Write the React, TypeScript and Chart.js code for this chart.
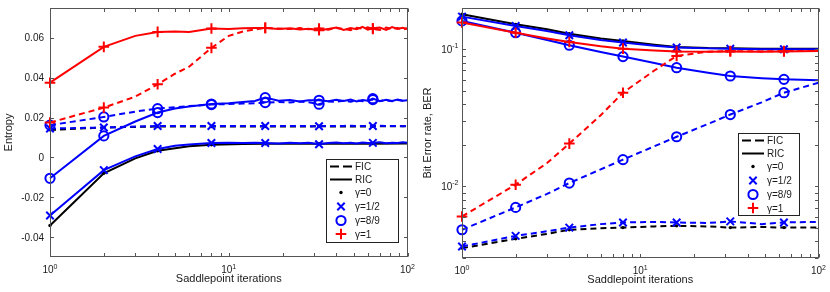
import { useEffect, useRef } from "react";
import { Chart, registerables } from "chart.js";
Chart.register(...registerables);

const FONT = '"Liberation Sans", Arial, Helvetica, sans-serif';
const TEXT = "#1a1a1a";
const AXIS = "#555555";
const RED = "#ff0000";
const BLUE = "#0000ff";
const BLACK = "#000000";

// iterations at which markers are drawn
const markerIters = [1, 2, 4, 8, 16, 32, 64];

// ---------- Left panel: Entropy ----------
const entIters = [1, 2, 3, 4, 5, 6, 8, 10, 12, 14, 16, 19, 22, 25, 28, 32, 36, 40, 44, 48, 52, 56, 60, 64, 70, 76, 82, 88, 94, 100];
const entItersSparse = [1, 2, 3, 4, 6, 8, 12, 16, 24, 32, 48, 64, 100];

const entRicG1 = [0.0375, 0.0555, 0.061, 0.063, 0.0632, 0.063, 0.0647, 0.0645, 0.0648, 0.065, 0.065, 0.0645, 0.0648, 0.0642, 0.0646, 0.0638, 0.0645, 0.0652, 0.064, 0.065, 0.0643, 0.0655, 0.0641, 0.0648, 0.0652, 0.064, 0.0654, 0.0645, 0.0651, 0.0645];
const entFicG1 = [0.0175, 0.025, 0.0305, 0.0367, 0.042, 0.0455, 0.055, 0.061, 0.0632, 0.0642, 0.065, 0.0647, 0.0644, 0.0649, 0.0643, 0.0647, 0.0641, 0.065, 0.0645, 0.0639, 0.0651, 0.0646, 0.0653, 0.0645, 0.064, 0.0652, 0.0644, 0.065, 0.0642, 0.0648];
const entRicG89 = [-0.0105, 0.0108, 0.018, 0.0225, 0.0245, 0.0255, 0.0268, 0.0272, 0.0278, 0.0283, 0.03, 0.0284, 0.0288, 0.0281, 0.0287, 0.0287, 0.0282, 0.0289, 0.0283, 0.029, 0.0281, 0.0288, 0.0284, 0.0295, 0.0282, 0.0289, 0.0283, 0.029, 0.0284, 0.0287];
const entFicG89 = [0.0162, 0.0203, 0.023, 0.0245, 0.0252, 0.0258, 0.0265, 0.0268, 0.027, 0.0272, 0.0275, 0.0278, 0.0276, 0.028, 0.0277, 0.0267, 0.0281, 0.0279, 0.0284, 0.028, 0.0286, 0.0282, 0.0285, 0.029, 0.0283, 0.0287, 0.0282, 0.0288, 0.0284, 0.0286];
const entFicG12 = [0.0145, 0.015, 0.0155, 0.0158, 0.0158, 0.0158, 0.0158, 0.0157, 0.0158, 0.0158, 0.0158, 0.0157, 0.0158, 0.0158, 0.0157, 0.0156, 0.0158, 0.0157, 0.0158, 0.0159, 0.0157, 0.0158, 0.0157, 0.0158, 0.0159, 0.0157, 0.0158, 0.0158, 0.0157, 0.0158];
const entRicG12 = [-0.0292, -0.0064, 0.0005, 0.0042, 0.0058, 0.0065, 0.0072, 0.0073, 0.0072, 0.0073, 0.0072, 0.007, 0.0074, 0.0071, 0.0073, 0.0066, 0.0072, 0.0075, 0.0071, 0.0074, 0.007, 0.0075, 0.0072, 0.0073, 0.0076, 0.0071, 0.0074, 0.0072, 0.0076, 0.0073];
const entFicG0 = [0.0138, 0.015, 0.0153, 0.0155, 0.0155, 0.0155, 0.0155, 0.0155, 0.0155, 0.0156, 0.0155, 0.0156, 0.0156];
const entRicG0 = [-0.0342, -0.008, -0.0005, 0.0033, 0.0056, 0.0063, 0.0067, 0.0068, 0.0068, 0.0069, 0.0069, 0.0069, 0.007];

const entYTicks = [-0.04, -0.02, 0, 0.02, 0.04, 0.06];
const entYTickLabels = ["-0.04", "-0.02", "0", "0.02", "0.04", "0.06"];

// ---------- Right panel: BER ----------
const berIters = [1, 2, 3, 4, 6, 8, 12, 16, 24, 32, 48, 64, 100];
const berFicG0 = [0.00354, 0.00414, 0.0045, 0.00482, 0.00495, 0.005, 0.0051, 0.00515, 0.0051, 0.005, 0.00505, 0.005, 0.005];
const berRicG0 = [0.18, 0.152, 0.14, 0.13, 0.12, 0.115, 0.108, 0.104, 0.102, 0.1016, 0.101, 0.101, 0.101];
const berFicG12 = [0.00364, 0.00435, 0.0047, 0.005, 0.0053, 0.00545, 0.0055, 0.00545, 0.0054, 0.00555, 0.0053, 0.00545, 0.0055];
const berRicG12 = [0.173, 0.148, 0.136, 0.1265, 0.117, 0.112, 0.106, 0.103, 0.1015, 0.101, 0.1, 0.1, 0.1];
const berFicG89 = [0.00482, 0.00702, 0.0088, 0.01057, 0.0133, 0.01566, 0.0196, 0.023, 0.0285, 0.0334, 0.041, 0.0482, 0.057];
const berRicG89 = [0.161, 0.132, 0.117, 0.107, 0.0955, 0.0884, 0.0795, 0.0734, 0.0675, 0.0638, 0.0615, 0.0603, 0.0593];
const berFicG1 = [0.00603, 0.01028, 0.0148, 0.0205, 0.033, 0.0482, 0.07, 0.0894, 0.096, 0.097, 0.0965, 0.097, 0.097];
const berRicG1 = [0.157, 0.132, 0.12, 0.113, 0.105, 0.101, 0.098, 0.0962, 0.096, 0.0962, 0.0958, 0.0962, 0.097];

const berYMajor = [0.01, 0.1];
const berYMinor = [0.003, 0.004, 0.005, 0.006, 0.007, 0.008, 0.009, 0.02, 0.03, 0.04, 0.05, 0.06, 0.07, 0.08, 0.09];
const berYTickExp = ["-2", "-1"];

const xMajor = [1, 10, 100];
const xMinor = [2, 3, 4, 5, 6, 7, 8, 9, 20, 30, 40, 50, 60, 70, 80, 90];
const xTickExp = ["0", "1", "2"];

const legendLabels = ["FIC", "RIC", "\u03b3=0", "\u03b3=1/2", "\u03b3=8/9", "\u03b3=1"];

type Marker = "dot" | "x" | "o" | "plus";
interface Series { xs: number[]; ys: number[]; color: string; dashed: boolean; marker: Marker; }

function makeDataset(s: Series) {
  const style = { dot: "circle", x: "crossRot", o: "circle", plus: "cross" }[s.marker];
  const r = { dot: 1.7, x: 5.3, o: 4.6, plus: 5.3 }[s.marker];
  return {
    data: s.xs.map((x, i) => ({ x, y: s.ys[i] })),
    borderColor: s.color,
    borderWidth: 2,
    borderDash: s.dashed ? [6, 4] : [],
    pointStyle: style,
    pointRadius: (ctx: any) => (ctx.raw && markerIters.includes(ctx.raw.x) ? r : 0),
    pointHoverRadius: 0,
    pointBorderColor: s.color,
    pointBackgroundColor: s.marker === "dot" ? s.color : "rgba(0,0,0,0)",
    pointBorderWidth: s.marker === "dot" ? 0 : 2,
    tension: 0,
    fill: false,
    clip: false as any,
  };
}

function drawSup(ctx: CanvasRenderingContext2D, base: string, exp: string, x: number, y: number, align: "center" | "right") {
  ctx.font = `10px ${FONT}`;
  const bw = ctx.measureText(base).width;
  ctx.font = `7px ${FONT}`;
  const ew = ctx.measureText(exp).width;
  const total = bw + ew;
  const start = align === "center" ? x - total / 2 : x - total;
  ctx.textAlign = "left";
  ctx.textBaseline = "alphabetic";
  ctx.font = `10px ${FONT}`;
  ctx.fillText(base, start, y);
  ctx.font = `7px ${FONT}`;
  ctx.fillText(exp, start + bw, y - 4.5);
}

function drawMarker(ctx: CanvasRenderingContext2D, m: Marker, x: number, y: number, color: string) {
  ctx.save();
  ctx.strokeStyle = color;
  ctx.fillStyle = color;
  ctx.lineWidth = 2;
  ctx.setLineDash([]);
  ctx.beginPath();
  if (m === "dot") {
    ctx.arc(x, y, 1.7, 0, Math.PI * 2);
    ctx.fill();
  } else if (m === "x") {
    const d = 3.7;
    ctx.moveTo(x - d, y - d); ctx.lineTo(x + d, y + d);
    ctx.moveTo(x + d, y - d); ctx.lineTo(x - d, y + d);
    ctx.stroke();
  } else if (m === "o") {
    ctx.arc(x, y, 4.6, 0, Math.PI * 2);
    ctx.stroke();
  } else {
    const d = 5.3;
    ctx.moveTo(x - d, y); ctx.lineTo(x + d, y);
    ctx.moveTo(x, y - d); ctx.lineTo(x, y + d);
    ctx.stroke();
  }
  ctx.restore();
}

interface FrameCfg {
  yMajor: number[];
  yMinor: number[];
  yLabel: (i: number, ctx: CanvasRenderingContext2D, px: number, x: number) => void;
  yLabelRight: number;
  yTitle: string;
  yTitleX: number;
  xTitle: string;
  xTickBase: number;
  xTitleBase: number;
  legend: { l: number; t: number; w: number; h: number };
}

function framePlugin(cfg: FrameCfg) {
  return {
    id: "frame",
    afterDraw(chart: any) {
      const ctx: CanvasRenderingContext2D = chart.ctx;
      const a = chart.chartArea;
      const xs = chart.scales.x;
      const ys = chart.scales.y;
      ctx.save();
      ctx.setLineDash([]);
      ctx.strokeStyle = AXIS;
      ctx.lineWidth = 1;
      const L = Math.round(a.left) + 0.5;
      const R = Math.round(a.right) - 0.5;
      const T = Math.round(a.top) + 0.5;
      const B = Math.round(a.bottom) - 0.5;
      ctx.strokeRect(L, T, R - L, B - T);
      const tl = 3.5;
      ctx.beginPath();
      for (const v of [...xMajor, ...xMinor]) {
        const px = Math.round(xs.getPixelForValue(v)) + 0.5;
        ctx.moveTo(px, B); ctx.lineTo(px, B - tl);
        ctx.moveTo(px, T); ctx.lineTo(px, T + tl);
      }
      for (const v of [...cfg.yMajor, ...cfg.yMinor]) {
        const py = Math.round(ys.getPixelForValue(v)) + 0.5;
        ctx.moveTo(L, py); ctx.lineTo(L + tl, py);
        ctx.moveTo(R, py); ctx.lineTo(R - tl, py);
      }
      ctx.stroke();

      ctx.fillStyle = TEXT;
      // x tick labels
      xMajor.forEach((v, i) => {
        drawSup(ctx, "10", xTickExp[i], xs.getPixelForValue(v), cfg.xTickBase, "center");
      });
      // y tick labels
      cfg.yMajor.forEach((v, i) => {
        cfg.yLabel(i, ctx, ys.getPixelForValue(v), cfg.yLabelRight);
      });
      // titles
      ctx.font = `11px ${FONT}`;
      ctx.textAlign = "center";
      ctx.textBaseline = "alphabetic";
      ctx.fillText(cfg.xTitle, (a.left + a.right) / 2, cfg.xTitleBase);
      ctx.save();
      ctx.translate(cfg.yTitleX, (a.top + a.bottom) / 2);
      ctx.rotate(-Math.PI / 2);
      ctx.textBaseline = "middle";
      ctx.fillText(cfg.yTitle, 0, 0);
      ctx.restore();

      // legend
      const lg = cfg.legend;
      ctx.fillStyle = "#ffffff";
      ctx.fillRect(lg.l, lg.t, lg.w, lg.h);
      ctx.strokeStyle = "#222";
      ctx.lineWidth = 1;
      ctx.strokeRect(lg.l + 0.5, lg.t + 0.5, lg.w, lg.h);
      const offs = [7.5, 20.5, 33.5, 47.5, 61.5, 75];
      const markers: (Marker | null)[] = [null, null, "dot", "x", "o", "plus"];
      const colors = [BLACK, BLACK, BLACK, BLUE, BLUE, RED];
      offs.forEach((o, i) => {
        const y = lg.t + o;
        if (i < 2) {
          ctx.save();
          ctx.strokeStyle = BLACK;
          ctx.lineWidth = 2;
          ctx.setLineDash(i === 0 ? [9, 4] : []);
          ctx.beginPath();
          ctx.moveTo(lg.l + 4, y);
          ctx.lineTo(lg.l + 26, y);
          ctx.stroke();
          ctx.restore();
        } else {
          drawMarker(ctx, markers[i] as Marker, lg.l + 15, y, colors[i]);
        }
        ctx.fillStyle = TEXT;
        ctx.font = `10px ${FONT}`;
        ctx.textAlign = "left";
        ctx.textBaseline = "alphabetic";
        ctx.fillText(legendLabels[i], lg.l + 29, y + 3.6);
      });
      ctx.restore();
    },
  };
}

function makeConfig(datasets: any[], yScale: any, yWidth: number, xHeight: number, rightPad: number, cfg: FrameCfg) {
  return {
    type: "line" as const,
    data: { datasets },
    options: {
      animation: false as const,
      responsive: false,
      devicePixelRatio: 1,
      events: [],
      layout: { padding: { top: 8, right: rightPad, left: 0, bottom: 0 } },
      plugins: { legend: { display: false }, tooltip: { enabled: false } },
      scales: {
        x: {
          type: "logarithmic" as const,
          min: 1,
          max: 100,
          ticks: { display: false },
          grid: { display: false },
          border: { display: false },
          afterFit: (s: any) => { s.height = xHeight; },
        },
        y: {
          ...yScale,
          ticks: { display: false },
          grid: { display: false },
          border: { display: false },
          afterFit: (s: any) => { s.width = yWidth; },
        },
      },
    },
    plugins: [framePlugin(cfg)],
  };
}

export default function App() {
  const leftRef = useRef<HTMLCanvasElement>(null);
  const rightRef = useRef<HTMLCanvasElement>(null);

  useEffect(() => {
    const leftSeries: Series[] = [
      { xs: entIters, ys: entRicG1, color: RED, dashed: false, marker: "plus" },
      { xs: entIters, ys: entFicG1, color: RED, dashed: true, marker: "plus" },
      { xs: entIters, ys: entRicG89, color: BLUE, dashed: false, marker: "o" },
      { xs: entIters, ys: entFicG89, color: BLUE, dashed: true, marker: "o" },
      { xs: entIters, ys: entRicG12, color: BLUE, dashed: false, marker: "x" },
      { xs: entIters, ys: entFicG12, color: BLUE, dashed: true, marker: "x" },
      { xs: entItersSparse, ys: entRicG0, color: BLACK, dashed: false, marker: "dot" },
      { xs: entItersSparse, ys: entFicG0, color: BLACK, dashed: true, marker: "dot" },
    ];
    const rightSeries: Series[] = [
      { xs: berIters, ys: berRicG1, color: RED, dashed: false, marker: "plus" },
      { xs: berIters, ys: berFicG1, color: RED, dashed: true, marker: "plus" },
      { xs: berIters, ys: berRicG89, color: BLUE, dashed: false, marker: "o" },
      { xs: berIters, ys: berFicG89, color: BLUE, dashed: true, marker: "o" },
      { xs: berIters, ys: berRicG12, color: BLUE, dashed: false, marker: "x" },
      { xs: berIters, ys: berFicG12, color: BLUE, dashed: true, marker: "x" },
      { xs: berIters, ys: berRicG0, color: BLACK, dashed: false, marker: "dot" },
      { xs: berIters, ys: berFicG0, color: BLACK, dashed: true, marker: "dot" },
    ];

    const leftCfg: FrameCfg = {
      yMajor: entYTicks,
      yMinor: [],
      yLabel: (i, ctx, py, x) => {
        ctx.font = `10px ${FONT}`;
        ctx.textAlign = "right";
        ctx.textBaseline = "alphabetic";
        ctx.fillText(entYTickLabels[i], x, py + 3.6);
      },
      yLabelRight: 44,
      yTitle: "Entropy",
      yTitleX: 9,
      xTitle: "Saddlepoint iterations",
      xTickBase: 273,
      xTitleBase: 282,
      legend: { l: 326, t: 159, w: 72, h: 83 },
    };
    const rightCfg: FrameCfg = {
      yMajor: berYMajor,
      yMinor: berYMinor,
      yLabel: (i, ctx, py, x) => drawSup(ctx, "10", berYTickExp[i], x, py + 3.5, "right"),
      yLabelRight: 43.5,
      yTitle: "Bit Error rate, BER",
      yTitleX: 12.5,
      xTitle: "Saddlepoint iterations",
      xTickBase: 274,
      xTitleBase: 283,
      legend: { l: 323, t: 133, w: 61, h: 82 },
    };

    const c1 = new Chart(
      leftRef.current as HTMLCanvasElement,
      makeConfig(leftSeries.map(makeDataset), { type: "linear", min: -0.05, max: 0.075 }, 50, 35, 7.5, leftCfg) as any
    );
    const c2 = new Chart(
      rightRef.current as HTMLCanvasElement,
      makeConfig(rightSeries.map(makeDataset), { type: "logarithmic", min: 0.003, max: 0.2 }, 47, 34, 11.5, rightCfg) as any
    );
    return () => {
      c1.destroy();
      c2.destroy();
    };
  }, []);

  return (
    <div style={{ position: "absolute", left: 0, top: 0, width: 830, height: 292, background: "#ffffff" }}>
      <canvas ref={leftRef} width={415} height={292} style={{ position: "absolute", left: 0, top: 0, width: 415, height: 292 }} />
      <canvas ref={rightRef} width={415} height={292} style={{ position: "absolute", left: 415, top: 0, width: 415, height: 292 }} />
    </div>
  );
}
